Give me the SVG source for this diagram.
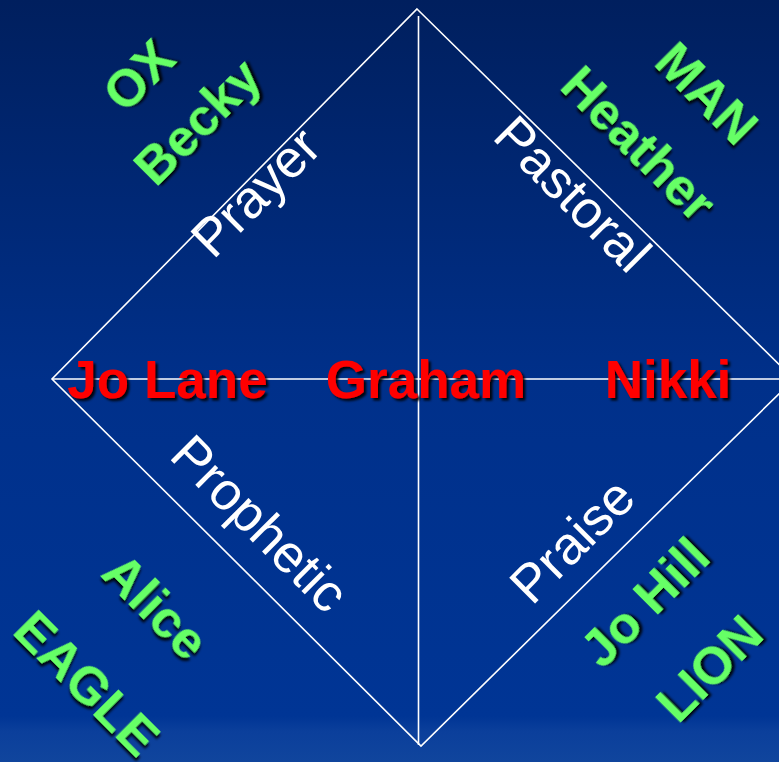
<svg xmlns="http://www.w3.org/2000/svg" width="779" height="762" viewBox="0 0 779 762">
  <defs>
    <linearGradient id="bg" x1="0" y1="0" x2="0" y2="1">
      <stop offset="0" stop-color="#001f5e"/>
      <stop offset="0.5" stop-color="#00308a"/>
      <stop offset="0.94" stop-color="#003595"/>
      <stop offset="0.96" stop-color="#0b3f9b"/>
      <stop offset="1" stop-color="#10459d"/>
    </linearGradient>
    <filter id="sh" x="-20%" y="-20%" width="140%" height="140%">
      <feDropShadow dx="2.5" dy="2.5" stdDeviation="1" flood-color="#000000" flood-opacity="0.9"/>
    </filter>
    <style>
      .ln { stroke: #ffffff; stroke-width: 1.6; fill: none; }
      .red { font-family: "Liberation Sans", Arial, sans-serif; font-weight: bold; fill: #ff0000; font-size: 53px; text-anchor: middle; filter: url(#sh); }
      .grn { font-family: "Liberation Sans", Arial, sans-serif; font-weight: bold; fill: #66ff66; font-size: 52px; text-anchor: middle; filter: url(#sh); }
      .wht { font-family: "Liberation Sans", Arial, sans-serif; fill: #ffffff; font-size: 53px; text-anchor: middle; }
    </style>
  </defs>
  <rect x="0" y="0" width="779" height="762" fill="url(#bg)"/>
  <g id="connectors">
    <polygon class="ln" points="417,9 794,379 421,746 52,379"/>
    <line class="ln" x1="418.5" y1="16" x2="418.5" y2="745"/>
    <line class="ln" x1="52" y1="379" x2="779" y2="379"/>
  </g>
  <g id="prayer"><text class="wht" x="268.5" y="205" transform="rotate(-45 268.5 205)">Prayer</text></g>
  <g id="pastoral"><text class="wht" x="559.8" y="206.8" transform="rotate(45 559.8 206.8)">Pastoral</text></g>
  <g id="prophetic"><text class="wht" x="247" y="536.4" transform="rotate(45 247 536.4)">Prophetic</text></g>
  <g id="praise"><text class="wht" x="585.1" y="553.4" transform="rotate(-45 585.1 553.4)">Praise</text></g>
  <g id="ox"><text class="grn" x="151.5" y="88.2" transform="rotate(-45 151.5 88.2)">OX</text></g>
  <g id="becky"><text class="grn" x="210.1" y="134.3" transform="rotate(-45 210.1 134.3)">Becky</text></g>
  <g id="man"><text class="grn" x="694.3" y="105.7" transform="rotate(45 694.3 105.7)">MAN</text></g>
  <g id="heather"><text class="grn" x="626" y="156.5" transform="rotate(45 626 156.5)">Heather</text></g>
  <g id="alice"><text class="grn" x="143.1" y="619" transform="rotate(45 143.1 619)">Alice</text></g>
  <g id="eagle"><text class="grn" x="74.3" y="695.7" transform="rotate(45 74.3 695.7)">EAGLE</text></g>
  <g id="johill"><text class="grn" x="657.4" y="614.9" transform="rotate(-45 657.4 614.9)">Jo Hill</text></g>
  <g id="lion"><text class="grn" x="722.4" y="681.5" transform="rotate(-45 722.4 681.5)">LION</text></g>
  <g id="jolane"><text class="red" x="167.5" y="398">Jo Lane</text></g>
  <g id="graham"><text class="red" x="426" y="398">Graham</text></g>
  <g id="nikki"><text class="red" x="668" y="398">Nikki</text></g>
</svg>
